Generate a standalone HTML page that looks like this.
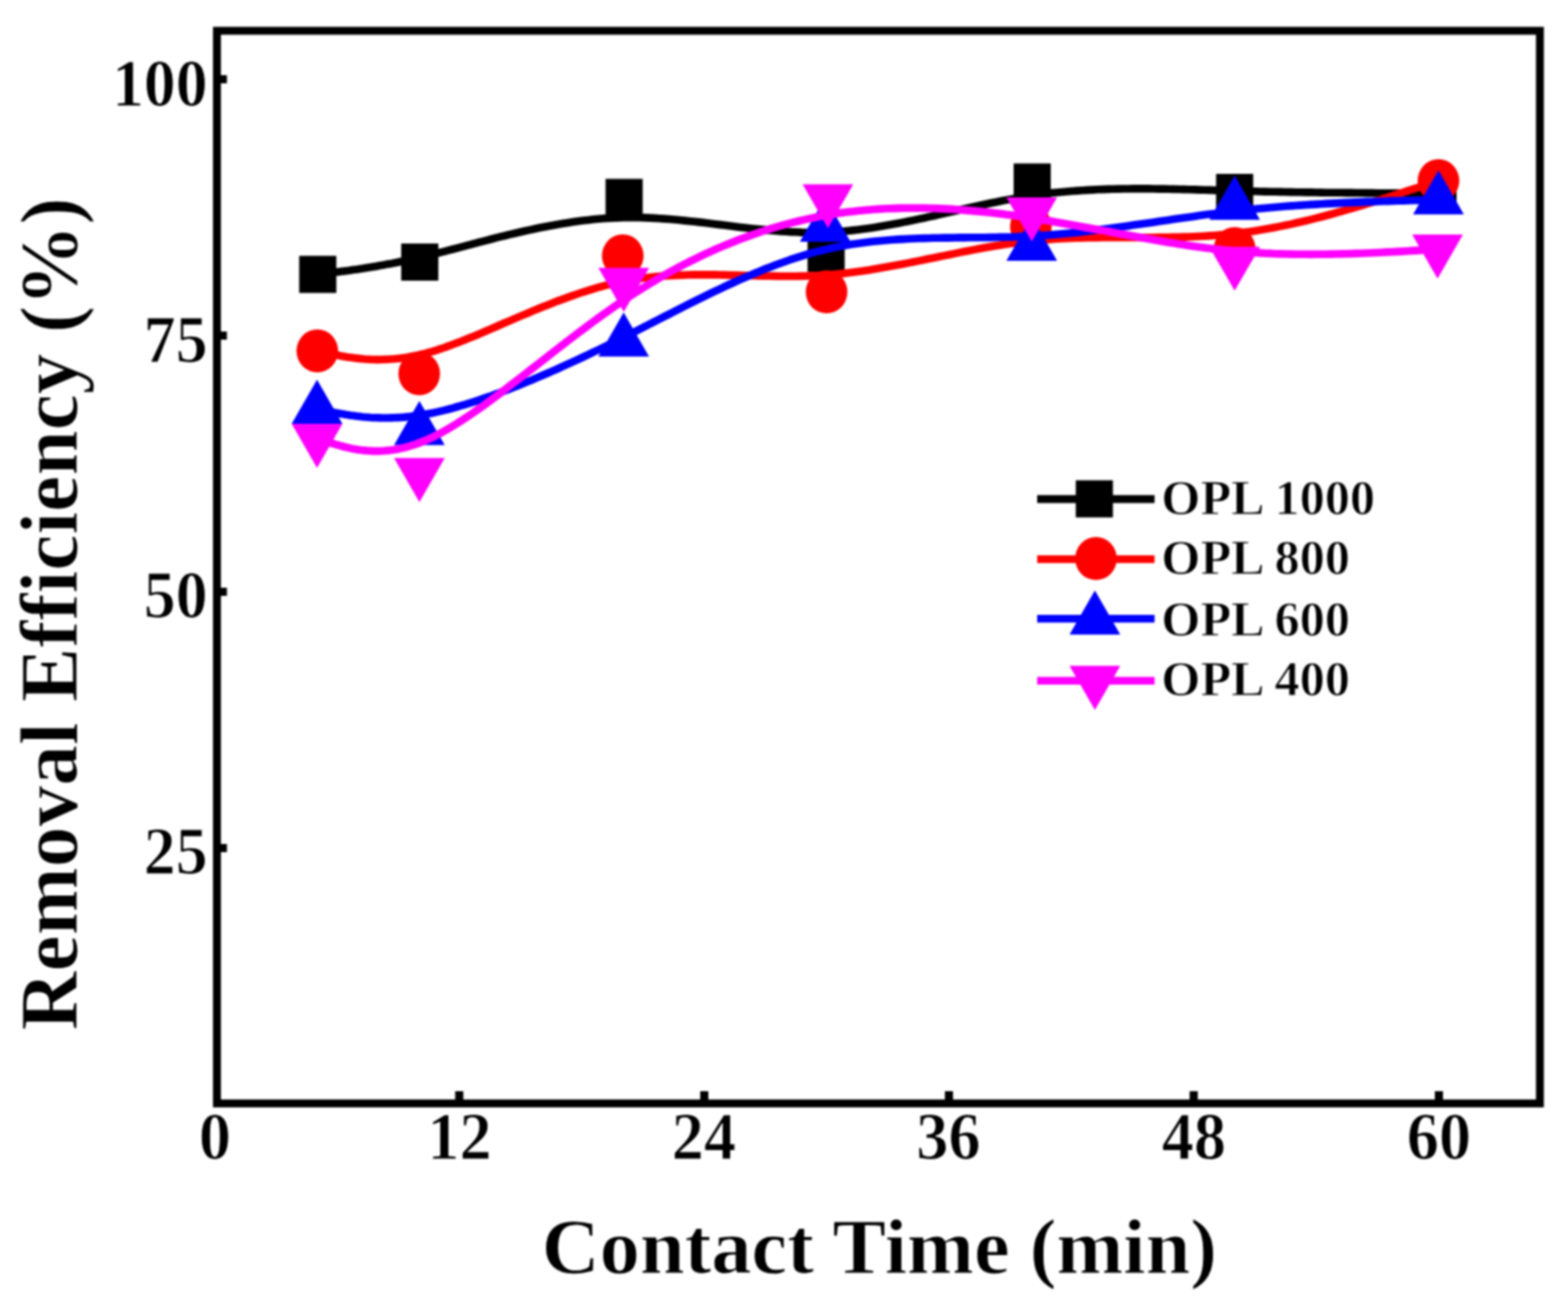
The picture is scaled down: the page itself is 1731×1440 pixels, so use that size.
<!DOCTYPE html>
<html><head><meta charset="utf-8"><title>Removal Efficiency vs Contact Time</title>
<style>
html,body{margin:0;padding:0;background:#fff;}
body{width:1731px;height:1440px;overflow:hidden;}
svg{display:block;filter:blur(1px);}
text{font-family:"Liberation Serif","Times New Roman",serif;font-weight:bold;fill:#000;stroke:#fff;stroke-width:1px;}
.tk{font-size:74px;}
.ti{font-size:88px;}
.ty{font-size:90px;}
.lg{font-size:55.5px;}
</style></head>
<body>
<svg width="1731" height="1440" viewBox="0 0 1731 1440">
<rect width="1731" height="1440" fill="#fff"/>
<path d="M350.8,303.0 L353.6,302.7 L356.4,302.3 L359.3,302.0 L362.1,301.6 L364.9,301.3 L367.8,300.9 L370.6,300.6 L373.5,300.2 L376.3,299.8 L379.2,299.4 L382.2,299.1 L385.1,298.7 L388.0,298.2 L391.0,297.8 L394.0,297.4 L397.0,296.9 L400.1,296.5 L403.2,296.0 L406.3,295.5 L409.5,295.0 L412.6,294.5 L415.9,293.9 L419.1,293.3 L422.4,292.8 L425.8,292.1 L429.2,291.5 L432.6,290.9 L436.1,290.2 L439.6,289.5 L443.2,288.7 L446.8,288.0 L450.5,287.2 L454.3,286.4 L458.1,285.5 L461.9,284.6 L465.9,283.7 L469.9,282.8 L473.9,281.8 L478.0,280.8 L482.2,279.8 L486.5,278.7 L490.8,277.6 L495.2,276.4 L499.7,275.3 L504.2,274.1 L508.8,272.8 L513.5,271.6 L518.2,270.4 L522.9,269.1 L527.7,267.8 L532.6,266.6 L537.5,265.3 L542.5,264.0 L547.5,262.7 L552.6,261.4 L557.7,260.2 L562.8,258.9 L568.0,257.7 L573.2,256.5 L578.5,255.3 L583.8,254.1 L589.1,253.0 L594.5,251.8 L599.9,250.7 L605.3,249.7 L610.7,248.7 L616.2,247.7 L621.7,246.8 L627.2,245.9 L632.7,245.1 L638.3,244.3 L643.8,243.6 L649.4,242.9 L655.0,242.3 L660.5,241.8 L666.1,241.3 L671.7,240.9 L677.4,240.6 L683.0,240.4 L688.6,240.2 L694.2,240.2 L699.8,240.2 L705.4,240.2 L711.0,240.4 L716.6,240.6 L722.2,240.9 L727.8,241.2 L733.4,241.6 L739.0,242.0 L744.6,242.5 L750.2,243.0 L755.8,243.6 L761.4,244.2 L767.0,244.8 L772.6,245.4 L778.2,246.1 L783.8,246.8 L789.3,247.5 L794.9,248.1 L800.5,248.8 L806.1,249.5 L811.7,250.2 L817.3,250.9 L822.9,251.5 L828.5,252.2 L834.1,252.8 L839.7,253.4 L845.3,253.9 L851.0,254.5 L856.6,254.9 L862.2,255.4 L867.8,255.7 L873.4,256.1 L879.0,256.3 L884.6,256.6 L890.2,256.7 L895.9,256.8 L901.5,256.8 L907.1,256.7 L912.8,256.5 L918.4,256.2 L924.0,255.9 L929.7,255.5 L935.3,255.0 L940.9,254.4 L946.6,253.8 L952.2,253.1 L957.9,252.3 L963.5,251.5 L969.2,250.6 L974.8,249.6 L980.5,248.6 L986.1,247.6 L991.8,246.5 L997.5,245.4 L1003.1,244.3 L1008.8,243.1 L1014.4,241.9 L1020.1,240.7 L1025.8,239.4 L1031.4,238.2 L1037.1,236.9 L1042.7,235.6 L1048.4,234.4 L1054.1,233.1 L1059.7,231.8 L1065.4,230.5 L1071.0,229.2 L1076.7,228.0 L1082.4,226.7 L1088.0,225.5 L1093.7,224.3 L1099.3,223.2 L1105.0,222.0 L1110.6,220.9 L1116.3,219.9 L1121.9,218.9 L1127.6,217.9 L1133.2,217.0 L1138.8,216.1 L1144.5,215.3 L1150.1,214.5 L1155.7,213.8 L1161.4,213.1 L1167.0,212.5 L1172.6,212.0 L1178.2,211.5 L1183.9,211.0 L1189.5,210.6 L1195.1,210.2 L1200.7,209.9 L1206.3,209.6 L1211.9,209.3 L1217.5,209.1 L1223.2,208.9 L1228.8,208.7 L1234.4,208.6 L1240.0,208.5 L1245.6,208.5 L1251.2,208.4 L1256.8,208.4 L1262.4,208.4 L1268.0,208.4 L1273.6,208.5 L1279.2,208.6 L1284.8,208.6 L1290.4,208.7 L1296.0,208.9 L1301.6,209.0 L1307.2,209.1 L1312.8,209.3 L1318.4,209.4 L1324.0,209.6 L1329.6,209.8 L1335.2,209.9 L1340.8,210.1 L1346.4,210.3 L1352.0,210.4 L1357.6,210.6 L1363.2,210.8 L1368.8,210.9 L1374.4,211.0 L1380.0,211.2 L1385.6,211.3 L1391.2,211.5 L1396.8,211.6 L1402.4,211.7 L1408.0,211.8 L1413.6,211.9 L1419.2,212.0 L1424.8,212.1 L1430.4,212.2 L1436.0,212.3 L1441.6,212.4 L1447.2,212.4 L1452.8,212.5 L1458.4,212.6 L1464.1,212.7 L1469.7,212.7 L1475.3,212.8 L1480.9,212.8 L1486.5,212.9 L1492.1,212.9 L1497.7,213.0 L1503.3,213.0 L1508.9,213.1 L1514.5,213.1 L1520.2,213.2 L1525.8,213.2 L1531.4,213.2 L1537.0,213.3 L1542.6,213.3 L1548.2,213.3 L1553.8,213.3 L1559.4,213.4 L1565.1,213.4 L1570.7,213.4 L1576.3,213.4 L1581.9,213.5 L1587.5,213.5" fill="none" stroke="#000000" stroke-width="8.6" stroke-linejoin="round"/>
<rect x="330.3" y="282.5" width="41" height="41" fill="#000000"/>
<rect x="442.9" y="268.9" width="41" height="41" fill="#000000"/>
<rect x="668.5" y="197.5" width="41" height="41" fill="#000000"/>
<rect x="891.5" y="259.5" width="41" height="41" fill="#000000"/>
<rect x="1119.0" y="180.5" width="41" height="41" fill="#000000"/>
<rect x="1342.5" y="192.0" width="41" height="41" fill="#000000"/>
<rect x="1567.0" y="193.0" width="41" height="41" fill="#000000"/>
<path d="M350.3,387.5 L353.1,388.1 L355.9,388.8 L358.7,389.4 L361.6,390.0 L364.4,390.6 L367.2,391.2 L370.1,391.8 L372.9,392.3 L375.8,392.9 L378.7,393.4 L381.6,393.9 L384.6,394.4 L387.5,394.8 L390.5,395.2 L393.5,395.6 L396.5,395.9 L399.5,396.2 L402.6,396.5 L405.7,396.7 L408.9,396.9 L412.1,397.0 L415.3,397.1 L418.5,397.1 L421.8,397.0 L425.2,396.9 L428.6,396.8 L432.0,396.5 L435.5,396.3 L439.0,395.9 L442.6,395.5 L446.2,395.0 L449.9,394.4 L453.6,393.7 L457.4,393.0 L461.3,392.2 L465.2,391.3 L469.2,390.3 L473.2,389.2 L477.3,388.1 L481.5,386.8 L485.7,385.4 L490.1,384.0 L494.5,382.4 L498.9,380.8 L503.4,379.1 L508.0,377.4 L512.6,375.5 L517.3,373.6 L522.1,371.7 L526.9,369.7 L531.7,367.6 L536.6,365.5 L541.6,363.4 L546.6,361.2 L551.6,359.0 L556.7,356.8 L561.9,354.6 L567.0,352.4 L572.2,350.1 L577.5,347.9 L582.8,345.7 L588.1,343.4 L593.4,341.2 L598.8,339.0 L604.2,336.9 L609.7,334.7 L615.1,332.6 L620.6,330.6 L626.1,328.6 L631.6,326.6 L637.2,324.7 L642.7,322.8 L648.3,321.1 L653.9,319.3 L659.5,317.7 L665.1,316.1 L670.7,314.7 L676.3,313.3 L681.9,312.0 L687.5,310.8 L693.2,309.8 L698.8,308.8 L704.4,307.9 L710.0,307.1 L715.7,306.4 L721.3,305.8 L726.9,305.3 L732.5,304.8 L738.1,304.4 L743.8,304.1 L749.4,303.9 L755.0,303.7 L760.6,303.5 L766.3,303.4 L771.9,303.4 L777.5,303.3 L783.1,303.4 L788.8,303.4 L794.4,303.5 L800.0,303.6 L805.6,303.7 L811.3,303.9 L816.9,304.0 L822.5,304.2 L828.1,304.3 L833.8,304.5 L839.4,304.6 L845.0,304.7 L850.7,304.8 L856.3,304.9 L861.9,305.0 L867.5,305.0 L873.2,305.0 L878.8,305.0 L884.4,304.9 L890.1,304.7 L895.7,304.5 L901.3,304.3 L907.0,304.0 L912.6,303.6 L918.2,303.2 L923.8,302.7 L929.5,302.1 L935.1,301.5 L940.7,300.8 L946.4,300.0 L952.0,299.2 L957.6,298.4 L963.3,297.5 L968.9,296.6 L974.5,295.6 L980.2,294.6 L985.8,293.6 L991.4,292.6 L997.1,291.5 L1002.7,290.4 L1008.3,289.3 L1014.0,288.1 L1019.6,287.0 L1025.2,285.8 L1030.9,284.7 L1036.5,283.5 L1042.2,282.4 L1047.8,281.2 L1053.4,280.1 L1059.1,278.9 L1064.7,277.8 L1070.3,276.7 L1076.0,275.6 L1081.6,274.6 L1087.2,273.6 L1092.9,272.6 L1098.5,271.6 L1104.1,270.7 L1109.8,269.8 L1115.4,269.0 L1121.0,268.2 L1126.7,267.4 L1132.3,266.8 L1137.9,266.1 L1143.5,265.6 L1149.2,265.1 L1154.8,264.6 L1160.4,264.2 L1166.1,263.8 L1171.7,263.5 L1177.3,263.3 L1183.0,263.0 L1188.6,262.8 L1194.2,262.7 L1199.8,262.5 L1205.5,262.4 L1211.1,262.4 L1216.7,262.3 L1222.4,262.3 L1228.0,262.2 L1233.6,262.2 L1239.2,262.2 L1244.9,262.2 L1250.5,262.2 L1256.1,262.2 L1261.7,262.2 L1267.4,262.2 L1273.0,262.2 L1278.6,262.1 L1284.2,262.1 L1289.9,262.0 L1295.5,261.9 L1301.1,261.8 L1306.7,261.6 L1312.4,261.5 L1318.0,261.2 L1323.6,261.0 L1329.2,260.7 L1334.9,260.4 L1340.5,260.0 L1346.1,259.5 L1351.7,259.1 L1357.4,258.5 L1363.0,257.9 L1368.6,257.3 L1374.2,256.5 L1379.9,255.8 L1385.5,254.9 L1391.1,254.0 L1396.8,253.1 L1402.4,252.1 L1408.0,251.0 L1413.6,249.9 L1419.2,248.8 L1424.9,247.6 L1430.5,246.3 L1436.1,245.0 L1441.8,243.7 L1447.4,242.3 L1453.0,240.9 L1458.6,239.5 L1464.2,238.0 L1469.9,236.5 L1475.5,234.9 L1481.1,233.3 L1486.8,231.7 L1492.4,230.1 L1498.0,228.4 L1503.6,226.8 L1509.3,225.0 L1514.9,223.3 L1520.5,221.6 L1526.1,219.8 L1531.8,218.0 L1537.4,216.2 L1543.0,214.4 L1548.6,212.5 L1554.2,210.7 L1559.9,208.8 L1565.5,207.0 L1571.1,205.1 L1576.8,203.2 L1582.4,201.4 L1588.0,199.5" fill="none" stroke="#ff0000" stroke-width="8.6" stroke-linejoin="round"/>
<ellipse cx="350.3" cy="387.5" rx="23" ry="23.8" fill="#ff0000"/>
<ellipse cx="462.8" cy="412.7" rx="23" ry="23.8" fill="#ff0000"/>
<ellipse cx="687.5" cy="282.5" rx="23" ry="23.8" fill="#ff0000"/>
<ellipse cx="912.5" cy="322.3" rx="23" ry="23.8" fill="#ff0000"/>
<ellipse cx="1138.0" cy="250.0" rx="23" ry="23.8" fill="#ff0000"/>
<ellipse cx="1363.0" cy="274.5" rx="23" ry="23.8" fill="#ff0000"/>
<ellipse cx="1588.0" cy="199.5" rx="23" ry="23.8" fill="#ff0000"/>
<path d="M350.0,451.7 L352.8,452.3 L355.7,452.9 L358.5,453.5 L361.3,454.0 L364.2,454.6 L367.0,455.2 L369.9,455.7 L372.8,456.3 L375.6,456.8 L378.5,457.3 L381.5,457.8 L384.4,458.2 L387.4,458.7 L390.4,459.1 L393.4,459.5 L396.4,459.8 L399.5,460.2 L402.6,460.5 L405.7,460.7 L408.8,461.0 L412.0,461.2 L415.3,461.3 L418.5,461.4 L421.8,461.5 L425.2,461.5 L428.6,461.5 L432.0,461.4 L435.5,461.3 L439.1,461.1 L442.7,460.9 L446.3,460.6 L450.0,460.2 L453.8,459.8 L457.6,459.3 L461.4,458.8 L465.4,458.2 L469.4,457.5 L473.4,456.8 L477.6,456.0 L481.7,455.1 L486.0,454.1 L490.4,453.1 L494.8,452.0 L499.2,450.8 L503.7,449.5 L508.3,448.2 L513.0,446.8 L517.7,445.4 L522.5,443.9 L527.3,442.3 L532.1,440.6 L537.1,438.9 L542.0,437.2 L547.1,435.3 L552.1,433.5 L557.2,431.5 L562.4,429.6 L567.5,427.5 L572.8,425.4 L578.0,423.3 L583.3,421.1 L588.7,418.9 L594.0,416.6 L599.4,414.3 L604.8,412.0 L610.2,409.6 L615.7,407.2 L621.2,404.7 L626.7,402.2 L632.2,399.7 L637.7,397.1 L643.3,394.5 L648.9,391.9 L654.4,389.2 L660.0,386.5 L665.6,383.8 L671.2,381.1 L676.8,378.3 L682.4,375.5 L688.0,372.7 L693.6,369.9 L699.2,367.1 L704.8,364.2 L710.4,361.4 L716.0,358.5 L721.6,355.7 L727.2,352.8 L732.8,349.9 L738.3,347.1 L743.9,344.2 L749.5,341.4 L755.1,338.5 L760.7,335.7 L766.3,332.9 L771.9,330.1 L777.5,327.4 L783.0,324.6 L788.6,321.9 L794.2,319.3 L799.8,316.6 L805.4,314.0 L811.0,311.5 L816.6,308.9 L822.2,306.5 L827.8,304.1 L833.4,301.7 L839.0,299.4 L844.6,297.1 L850.2,294.9 L855.8,292.8 L861.4,290.7 L867.0,288.7 L872.6,286.7 L878.2,284.9 L883.8,283.1 L889.4,281.4 L895.0,279.7 L900.7,278.2 L906.3,276.7 L911.9,275.4 L917.5,274.1 L923.2,272.9 L928.8,271.8 L934.5,270.8 L940.1,269.8 L945.8,269.0 L951.4,268.2 L957.1,267.5 L962.7,266.8 L968.4,266.2 L974.0,265.7 L979.7,265.2 L985.4,264.8 L991.0,264.4 L996.7,264.1 L1002.4,263.8 L1008.0,263.5 L1013.7,263.3 L1019.4,263.1 L1025.0,263.0 L1030.7,262.8 L1036.4,262.7 L1042.0,262.6 L1047.7,262.6 L1053.4,262.5 L1059.1,262.4 L1064.7,262.4 L1070.4,262.3 L1076.1,262.3 L1081.7,262.2 L1087.4,262.2 L1093.1,262.1 L1098.7,262.0 L1104.4,261.9 L1110.1,261.8 L1115.7,261.7 L1121.4,261.5 L1127.0,261.3 L1132.7,261.0 L1138.3,260.8 L1144.0,260.4 L1149.6,260.1 L1155.3,259.7 L1160.9,259.2 L1166.6,258.8 L1172.2,258.3 L1177.8,257.7 L1183.5,257.2 L1189.1,256.6 L1194.7,255.9 L1200.3,255.3 L1206.0,254.6 L1211.6,253.9 L1217.2,253.2 L1222.8,252.5 L1228.5,251.8 L1234.1,251.0 L1239.7,250.2 L1245.3,249.4 L1250.9,248.6 L1256.6,247.8 L1262.2,247.0 L1267.8,246.2 L1273.4,245.4 L1279.0,244.6 L1284.6,243.7 L1290.2,242.9 L1295.8,242.1 L1301.4,241.3 L1307.1,240.5 L1312.7,239.7 L1318.3,238.9 L1323.9,238.1 L1329.5,237.3 L1335.1,236.6 L1340.7,235.9 L1346.3,235.1 L1351.9,234.4 L1357.6,233.8 L1363.2,233.1 L1368.8,232.5 L1374.4,231.9 L1380.0,231.3 L1385.6,230.7 L1391.2,230.2 L1396.9,229.7 L1402.5,229.2 L1408.1,228.7 L1413.7,228.3 L1419.3,227.8 L1424.9,227.4 L1430.6,227.0 L1436.2,226.6 L1441.8,226.3 L1447.4,225.9 L1453.0,225.6 L1458.7,225.2 L1464.3,224.9 L1469.9,224.6 L1475.5,224.4 L1481.1,224.1 L1486.8,223.8 L1492.4,223.6 L1498.0,223.4 L1503.6,223.1 L1509.3,222.9 L1514.9,222.7 L1520.5,222.5 L1526.1,222.3 L1531.8,222.1 L1537.4,221.9 L1543.0,221.8 L1548.6,221.6 L1554.3,221.4 L1559.9,221.3 L1565.5,221.1 L1571.1,221.0 L1576.8,220.8 L1582.4,220.7 L1588.0,220.5" fill="none" stroke="#0000ff" stroke-width="8.6" stroke-linejoin="round"/>
<polygon points="350.0,419.2 378.0,467.9 322.0,467.9" fill="#0000ff"/>
<polygon points="463.0,442.8 491.0,491.5 435.0,491.5" fill="#0000ff"/>
<polygon points="688.5,345.1 716.5,393.8 660.5,393.8" fill="#0000ff"/>
<polygon points="911.0,218.2 939.0,266.9 883.0,266.9" fill="#0000ff"/>
<polygon points="1139.0,239.3 1167.0,288.0 1111.0,288.0" fill="#0000ff"/>
<polygon points="1363.0,194.1 1391.0,242.8 1335.0,242.8" fill="#0000ff"/>
<polygon points="1588.0,188.0 1616.0,236.7 1560.0,236.7" fill="#0000ff"/>
<path d="M350.0,484.2 L352.8,485.1 L355.7,486.1 L358.5,487.0 L361.3,487.9 L364.2,488.8 L367.0,489.7 L369.9,490.6 L372.8,491.4 L375.6,492.2 L378.5,493.0 L381.5,493.7 L384.4,494.4 L387.4,495.1 L390.4,495.7 L393.4,496.2 L396.4,496.7 L399.5,497.1 L402.6,497.4 L405.7,497.7 L408.8,497.9 L412.0,498.1 L415.3,498.1 L418.5,498.1 L421.9,498.0 L425.2,497.7 L428.6,497.4 L432.0,497.0 L435.5,496.5 L439.1,495.9 L442.7,495.1 L446.3,494.3 L450.0,493.3 L453.8,492.2 L457.6,491.0 L461.4,489.6 L465.4,488.1 L469.4,486.5 L473.4,484.7 L477.6,482.8 L481.8,480.7 L486.0,478.5 L490.4,476.1 L494.8,473.6 L499.2,470.9 L503.8,468.1 L508.4,465.2 L513.0,462.2 L517.7,459.0 L522.5,455.7 L527.3,452.4 L532.2,448.9 L537.1,445.4 L542.1,441.7 L547.1,438.0 L552.2,434.2 L557.3,430.3 L562.4,426.4 L567.6,422.4 L572.9,418.4 L578.1,414.3 L583.4,410.2 L588.8,406.0 L594.2,401.8 L599.6,397.6 L605.0,393.4 L610.4,389.1 L615.9,384.9 L621.4,380.6 L626.9,376.4 L632.5,372.1 L638.0,367.9 L643.6,363.7 L649.2,359.5 L654.8,355.4 L660.4,351.3 L666.0,347.2 L671.7,343.2 L677.3,339.3 L682.9,335.4 L688.6,331.6 L694.2,327.9 L699.8,324.2 L705.5,320.6 L711.1,317.1 L716.8,313.6 L722.4,310.2 L728.0,306.9 L733.7,303.7 L739.3,300.5 L744.9,297.4 L750.6,294.4 L756.2,291.5 L761.8,288.6 L767.5,285.8 L773.1,283.1 L778.7,280.4 L784.4,277.8 L790.0,275.3 L795.7,272.9 L801.3,270.5 L806.9,268.2 L812.6,265.9 L818.2,263.8 L823.8,261.7 L829.5,259.6 L835.1,257.7 L840.7,255.8 L846.4,254.0 L852.0,252.2 L857.6,250.5 L863.3,248.9 L868.9,247.4 L874.5,245.9 L880.1,244.5 L885.8,243.1 L891.4,241.9 L897.0,240.7 L902.7,239.5 L908.3,238.4 L913.9,237.4 L919.6,236.5 L925.2,235.6 L930.8,234.8 L936.5,234.1 L942.1,233.4 L947.7,232.8 L953.3,232.2 L959.0,231.7 L964.6,231.3 L970.2,230.9 L975.8,230.5 L981.5,230.3 L987.1,230.1 L992.7,229.9 L998.3,229.8 L1004.0,229.7 L1009.6,229.7 L1015.2,229.7 L1020.8,229.8 L1026.5,230.0 L1032.1,230.1 L1037.7,230.4 L1043.3,230.6 L1049.0,230.9 L1054.6,231.3 L1060.2,231.7 L1065.8,232.1 L1071.4,232.6 L1077.1,233.1 L1082.7,233.6 L1088.3,234.2 L1093.9,234.8 L1099.5,235.5 L1105.1,236.1 L1110.8,236.9 L1116.4,237.6 L1122.0,238.4 L1127.6,239.2 L1133.2,240.0 L1138.8,240.8 L1144.4,241.7 L1150.1,242.6 L1155.7,243.5 L1161.3,244.5 L1166.9,245.4 L1172.5,246.4 L1178.1,247.4 L1183.7,248.4 L1189.3,249.4 L1194.9,250.4 L1200.5,251.5 L1206.1,252.5 L1211.7,253.5 L1217.4,254.6 L1223.0,255.6 L1228.6,256.7 L1234.2,257.7 L1239.8,258.8 L1245.4,259.8 L1251.0,260.8 L1256.6,261.8 L1262.2,262.8 L1267.8,263.8 L1273.4,264.8 L1279.0,265.8 L1284.6,266.7 L1290.2,267.7 L1295.8,268.6 L1301.4,269.5 L1307.0,270.3 L1312.6,271.2 L1318.2,272.0 L1323.8,272.8 L1329.4,273.5 L1335.0,274.3 L1340.6,274.9 L1346.2,275.6 L1351.8,276.2 L1357.4,276.8 L1363.0,277.3 L1368.6,277.8 L1374.2,278.3 L1379.8,278.7 L1385.4,279.0 L1391.0,279.4 L1396.6,279.7 L1402.2,279.9 L1407.8,280.2 L1413.4,280.4 L1419.0,280.5 L1424.6,280.6 L1430.2,280.7 L1435.8,280.8 L1441.4,280.8 L1447.0,280.9 L1452.6,280.8 L1458.2,280.8 L1463.8,280.7 L1469.4,280.6 L1475.0,280.5 L1480.6,280.4 L1486.2,280.3 L1491.8,280.1 L1497.4,279.9 L1503.0,279.7 L1508.6,279.5 L1514.2,279.2 L1519.8,279.0 L1525.4,278.7 L1531.0,278.4 L1536.6,278.2 L1542.2,277.9 L1547.8,277.6 L1553.4,277.3 L1559.0,276.9 L1564.6,276.6 L1570.2,276.3 L1575.8,276.0 L1581.4,275.6 L1587.0,275.3" fill="none" stroke="#ff00ff" stroke-width="8.6" stroke-linejoin="round"/>
<polygon points="322.0,468.0 378.0,468.0 350.0,516.7" fill="#ff00ff"/>
<polygon points="435.0,505.8 491.0,505.8 463.0,554.5" fill="#ff00ff"/>
<polygon points="660.6,295.8 716.6,295.8 688.6,344.5" fill="#ff00ff"/>
<polygon points="886.0,203.4 942.0,203.4 914.0,252.1" fill="#ff00ff"/>
<polygon points="1111.0,218.0 1167.0,218.0 1139.0,266.7" fill="#ff00ff"/>
<polygon points="1335.0,272.4 1391.0,272.4 1363.0,321.1" fill="#ff00ff"/>
<polygon points="1559.0,259.1 1615.0,259.1 1587.0,307.8" fill="#ff00ff"/>
<rect x="239.5" y="34" width="1460.5" height="1184.5" fill="none" stroke="#000" stroke-width="8.7"/>
<line x1="243" y1="87.5" x2="250.5" y2="87.5" stroke="#000" stroke-width="9"/>
<line x1="243" y1="370.6" x2="250.5" y2="370.6" stroke="#000" stroke-width="9"/>
<line x1="243" y1="653.5" x2="250.5" y2="653.5" stroke="#000" stroke-width="9"/>
<line x1="243" y1="936.5" x2="250.5" y2="936.5" stroke="#000" stroke-width="9"/>
<line x1="507" y1="1215" x2="507" y2="1205" stroke="#000" stroke-width="9"/>
<line x1="777.5" y1="1215" x2="777.5" y2="1205" stroke="#000" stroke-width="9"/>
<line x1="1047.6" y1="1215" x2="1047.6" y2="1205" stroke="#000" stroke-width="9"/>
<line x1="1317.8" y1="1215" x2="1317.8" y2="1205" stroke="#000" stroke-width="9"/>
<line x1="1588.5" y1="1215" x2="1588.5" y2="1205" stroke="#000" stroke-width="9"/>
<line x1="1145" y1="551.1" x2="1274.6" y2="551.1" stroke="#000000" stroke-width="8.6"/>
<rect x="1187.6" y="530.4" width="41" height="41" fill="#000000"/>
<text x="1282" y="567.6" class="lg">OPL 1000</text>
<line x1="1145" y1="617.5" x2="1274.6" y2="617.5" stroke="#ff0000" stroke-width="8.6"/>
<ellipse cx="1209.9" cy="616.8" rx="23" ry="23.8" fill="#ff0000"/>
<text x="1282" y="633.6" class="lg">OPL 800</text>
<line x1="1145" y1="683.3" x2="1274.6" y2="683.3" stroke="#0000ff" stroke-width="8.6"/>
<polygon points="1208.7,652.0 1236.7,700.7 1180.7,700.7" fill="#0000ff"/>
<text x="1282" y="702.0" class="lg">OPL 600</text>
<line x1="1145" y1="751.8" x2="1274.6" y2="751.8" stroke="#ff00ff" stroke-width="8.6"/>
<polygon points="1180.7,735.3 1236.7,735.3 1208.7,784.0" fill="#ff00ff"/>
<text x="1282" y="768.2" class="lg">OPL 400</text>
<text transform="translate(229.1,117.2) scale(0.95,1)" class="tk" text-anchor="end">100</text>
<text transform="translate(229.1,399.6) scale(0.95,1)" class="tk" text-anchor="end">75</text>
<text transform="translate(229.1,682.0) scale(0.95,1)" class="tk" text-anchor="end">50</text>
<text transform="translate(229.1,964.5) scale(0.95,1)" class="tk" text-anchor="end">25</text>
<text transform="translate(237.3,1280.3) scale(0.96,1)" class="tk" text-anchor="middle">0</text>
<text transform="translate(507.3,1280.3) scale(0.96,1)" class="tk" text-anchor="middle">12</text>
<text transform="translate(777,1280.3) scale(0.96,1)" class="tk" text-anchor="middle">24</text>
<text transform="translate(1046.9,1280.3) scale(0.96,1)" class="tk" text-anchor="middle">36</text>
<text transform="translate(1318.1,1280.3) scale(0.96,1)" class="tk" text-anchor="middle">48</text>
<text transform="translate(1588.5,1280.3) scale(0.96,1)" class="tk" text-anchor="middle">60</text>
<text transform="translate(970.8,1406.3) scale(1.008,0.985)" class="ti" text-anchor="middle">Contact Time (min)</text>
<text transform="translate(85.2,677.8) rotate(-90)" class="ty" text-anchor="middle">Removal Efficiency (%)</text>
</svg>
</body></html>
